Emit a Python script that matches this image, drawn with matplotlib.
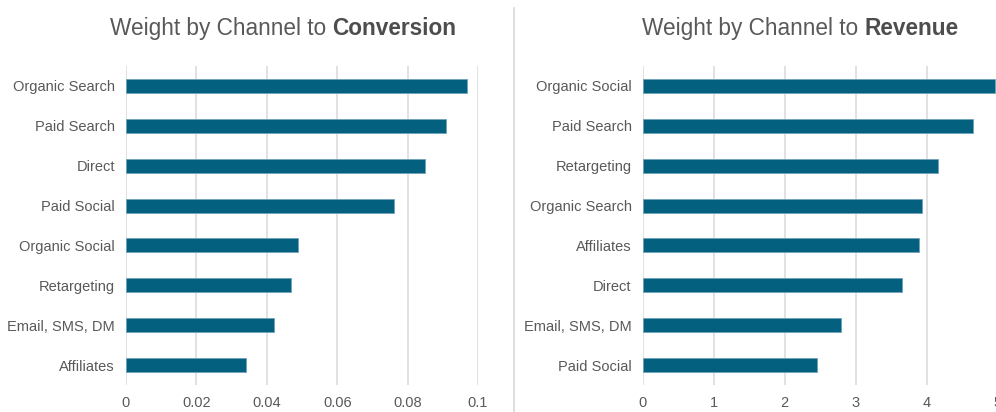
import matplotlib.pyplot as plt
from matplotlib.lines import Line2D

plt.rcParams['font.family'] = ['Liberation Sans', 'DejaVu Sans']

# conversion weights (top to bottom)
conv_channels = ['Organic Search', 'Paid Search', 'Direct', 'Paid Social',
                 'Organic Social', 'Retargeting', 'Email, SMS, DM', 'Affiliates']
conv_weights = [0.097, 0.091, 0.085, 0.076, 0.049, 0.047, 0.042, 0.034]
conv_ticks = [0, 0.02, 0.04, 0.06, 0.08, 0.1]
conv_ticklabels = ['0', '0.02', '0.04', '0.06', '0.08', '0.1']

# revenue weights (top to bottom)
rev_channels = ['Organic Social', 'Paid Search', 'Retargeting', 'Organic Search',
                'Affiliates', 'Direct', 'Email, SMS, DM', 'Paid Social']
rev_weights = [4.96, 4.65, 4.16, 3.93, 3.89, 3.65, 2.79, 2.46]
rev_ticks = [0, 1, 2, 3, 4, 5]
rev_ticklabels = ['0', '1', '2', '3', '4', '5']

bar_color = '#03607f'
text_color = '#595959'
grid_color = '#d9d9d9'

W, H = 996, 412
fig = plt.figure(figsize=(W / 100, H / 100), dpi=100)

def panel(left_px, width_px, channels, weights, ticks, ticklabels, xmax):
    ax = fig.add_axes([left_px / W, 27 / H, width_px / W, 319 / H])
    y = list(range(len(channels)))
    ax.barh(y, weights, height=0.35, color=bar_color,
            edgecolor='#6fa3bb', linewidth=0.6, zorder=3)
    ax.set_ylim(len(channels) - 0.5, -0.5)
    ax.set_xlim(0, xmax)
    ax.set_yticks(y)
    ax.set_yticklabels(channels)
    ax.set_xticks(ticks)
    ax.set_xticklabels(ticklabels)
    ax.grid(axis='x', color=grid_color, linewidth=1.1, zorder=0)
    for s in ax.spines.values():
        s.set_visible(False)
    ax.tick_params(axis='y', length=0, pad=8, labelsize=10.5, labelcolor=text_color)
    ax.tick_params(axis='x', length=0, pad=8, labelsize=10.5, labelcolor=text_color)
    return ax

panel(126, 352, conv_channels, conv_weights, conv_ticks, conv_ticklabels, 0.1)
panel(642.7, 355, rev_channels, rev_weights, rev_ticks, rev_ticklabels, 5)

def title(x_px, plain, bold):
    t = fig.text(x_px / W, 1 - 40 / H, plain, fontsize=16.3, color=text_color,
                 ha='left', va='bottom')
    plt.annotate(bold, xy=(1, 0), xycoords=t, fontsize=16.3,
                 fontweight='bold', color='#4d4d4d', ha='left', va='bottom',
                 annotation_clip=False)

title(110, 'Weight by Channel to ', 'Conversion')
title(642, 'Weight by Channel to ', 'Revenue')

# divider between the two panels
fig.add_artist(Line2D([514 / W, 514 / W], [0, 1 - 8 / H], color=grid_color,
                      linewidth=1.2, transform=fig.transFigure))

fig.savefig('out.png', dpi=100)
